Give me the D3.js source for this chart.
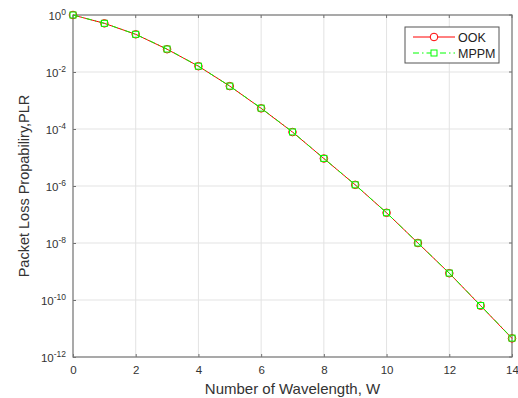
<!DOCTYPE html>
<html>
<head>
<meta charset="utf-8">
<script src="https://cdn.jsdelivr.net/npm/d3@7"></script>
<style>
  body { margin: 0; background: #fff; }
  text { font-family: "Liberation Sans", Arial, sans-serif; }
</style>
</head>
<body>
<div id="chart"></div>
<script>
// number of wavelengths
const wavelengths = [0, 1, 2, 3, 4, 5, 6, 7, 8, 9, 10, 11, 12, 13, 14];
// packet loss probability
const ookPLR = [1, 0.51, 0.21, 0.063, 0.016, 3.2e-3, 5.3e-4, 7.8e-5, 9.2e-6, 1.1e-6, 1.15e-7, 1.0e-8, 8.7e-10, 6.3e-11, 4.5e-12];
const mppmPLR = [1, 0.51, 0.21, 0.064, 0.016, 3.2e-3, 5.4e-4, 7.9e-5, 9.3e-6, 1.1e-6, 1.15e-7, 1.0e-8, 8.8e-10, 6.4e-11, 4.6e-12];
const xTicks = [0, 2, 4, 6, 8, 10, 12, 14];
const yTickExps = [0, -2, -4, -6, -8, -10, -12];
const seriesNames = ["OOK", "MPPM"];

const width = 518, height = 398;
const margin = { top: 15, right: 6, bottom: 41, left: 73 };

const svg = d3.select("#chart").append("svg")
    .attr("width", width)
    .attr("height", height);

const xScale = d3.scaleLinear()
    .domain([0, 14])
    .range([margin.left, width - margin.right]);

const yScale = d3.scaleLog()
    .domain([1e-12, 1])
    .range([height - margin.bottom, margin.top]);

const x0 = margin.left, x1 = width - margin.right;
const y0 = height - margin.bottom, y1 = margin.top;

// grid
svg.append("g")
    .selectAll("line")
    .data(xTicks)
    .enter().append("line")
    .attr("x1", d => xScale(d)).attr("x2", d => xScale(d))
    .attr("y1", y0).attr("y2", y1)
    .attr("stroke", "#e3e3e3").attr("stroke-width", 1);

svg.append("g")
    .selectAll("line")
    .data(yTickExps)
    .enter().append("line")
    .attr("x1", x0).attr("x2", x1)
    .attr("y1", d => yScale(Math.pow(10, d))).attr("y2", d => yScale(Math.pow(10, d)))
    .attr("stroke", "#e3e3e3").attr("stroke-width", 1);

// axes (ticks inward, like matlab)
const xAxis = d3.axisBottom(xScale)
    .tickValues(xTicks)
    .tickSize(-3)
    .tickPadding(9)
    .tickSizeOuter(0);
const gx = svg.append("g")
    .attr("transform", `translate(0,${y0})`)
    .call(xAxis);
gx.select(".domain").remove();
gx.selectAll("line").attr("stroke", "#707070");
gx.selectAll("text").attr("font-size", 11.5).attr("fill", "#333")
    .attr("font-family", "Liberation Sans, Arial, sans-serif");

const yAxis = d3.axisLeft(yScale)
    .tickValues(yTickExps.map(e => Math.pow(10, e)))
    .tickSize(-3)
    .tickFormat("")
    .tickSizeOuter(0);
const gy = svg.append("g")
    .attr("transform", `translate(${x0},0)`)
    .call(yAxis);
gy.select(".domain").remove();
gy.selectAll("line").attr("stroke", "#707070");

// y tick labels as 10 with superscript
const yLabels = svg.append("g");
yTickExps.forEach(e => {
    const t = yLabels.append("text")
        .attr("x", x0 - 7)
        .attr("y", yScale(Math.pow(10, e)) + 5)
        .attr("text-anchor", "end")
        .attr("font-size", 11.5)
        .attr("fill", "#333");
    t.append("tspan").text("10");
    t.append("tspan").attr("dy", -5).attr("font-size", 8.5).text(e);
});

// box
svg.append("rect")
    .attr("x", x0).attr("y", y1)
    .attr("width", x1 - x0).attr("height", y0 - y1)
    .attr("fill", "none")
    .attr("stroke", "#7a7a7a").attr("stroke-width", 1.2);

// tick marks on top and right (matlab box)
svg.append("g").selectAll("line").data(xTicks).enter().append("line")
    .attr("x1", d => xScale(d)).attr("x2", d => xScale(d))
    .attr("y1", y1).attr("y2", y1 + 3)
    .attr("stroke", "#707070");
svg.append("g").selectAll("line").data(yTickExps).enter().append("line")
    .attr("x1", x1).attr("x2", x1 - 3)
    .attr("y1", d => yScale(Math.pow(10, d))).attr("y2", d => yScale(Math.pow(10, d)))
    .attr("stroke", "#707070");

// lines
const line = d3.line()
    .x((d, i) => xScale(wavelengths[i]))
    .y(d => yScale(d));

svg.append("path")
    .datum(ookPLR)
    .attr("d", line)
    .attr("fill", "none")
    .attr("stroke", "#ff0000")
    .attr("stroke-width", 1);

svg.selectAll("circle.ook")
    .data(ookPLR)
    .enter().append("circle")
    .attr("class", "ook")
    .attr("cx", (d, i) => xScale(wavelengths[i]))
    .attr("cy", d => yScale(d))
    .attr("r", 3.8)
    .attr("fill", "none")
    .attr("stroke", "#ff0000")
    .attr("stroke-width", 1);

svg.append("path")
    .datum(mppmPLR)
    .attr("d", line)
    .attr("fill", "none")
    .attr("stroke", "#00ff00")
    .attr("stroke-width", 1)
    .attr("stroke-dasharray", "6,3,1.5,3");

svg.selectAll("rect.mppm")
    .data(mppmPLR)
    .enter().append("rect")
    .attr("class", "mppm")
    .attr("x", (d, i) => xScale(wavelengths[i]) - 3)
    .attr("y", d => yScale(d) - 3)
    .attr("width", 6).attr("height", 6)
    .attr("fill", "none")
    .attr("stroke", "#00ff00")
    .attr("stroke-width", 1);

// axis titles
svg.append("text")
    .attr("x", (x0 + x1) / 2)
    .attr("y", 394)
    .attr("text-anchor", "middle")
    .attr("font-size", 15)
    .attr("fill", "#333")
    .text("Number of Wavelength, W");

svg.append("text")
    .attr("transform", `translate(29,${(y0 + y1) / 2}) rotate(-90)`)
    .attr("text-anchor", "middle")
    .attr("font-size", 14.5)
    .attr("fill", "#333")
    .text("Packet Loss Propabiliry,PLR");

// legend
const legend = svg.append("g").attr("transform", "translate(405,27)");
legend.append("rect")
    .attr("width", 94).attr("height", 36)
    .attr("fill", "#fff")
    .attr("stroke", "#555").attr("stroke-width", 1);

const colors = ["#ff0000", "#00ff00"];
seriesNames.forEach((name, i) => {
    const ly = 10 + i * 16;
    legend.append("line")
        .attr("x1", 8).attr("x2", 50)
        .attr("y1", ly).attr("y2", ly)
        .attr("stroke", colors[i])
        .attr("stroke-dasharray", i === 1 ? "6,3,1.5,3" : null);
    if (i === 0) {
        legend.append("circle")
            .attr("cx", 29).attr("cy", ly).attr("r", 3.8)
            .attr("fill", "#fff").attr("stroke", colors[i]);
    } else {
        legend.append("rect")
            .attr("x", 26).attr("y", ly - 3)
            .attr("width", 6).attr("height", 6)
            .attr("fill", "#fff").attr("stroke", colors[i]);
    }
    legend.append("text")
        .attr("x", 53).attr("y", ly + 4.5)
        .attr("font-size", 12.5)
        .attr("fill", "#222")
        .text(name);
});
</script>
</body>
</html>
